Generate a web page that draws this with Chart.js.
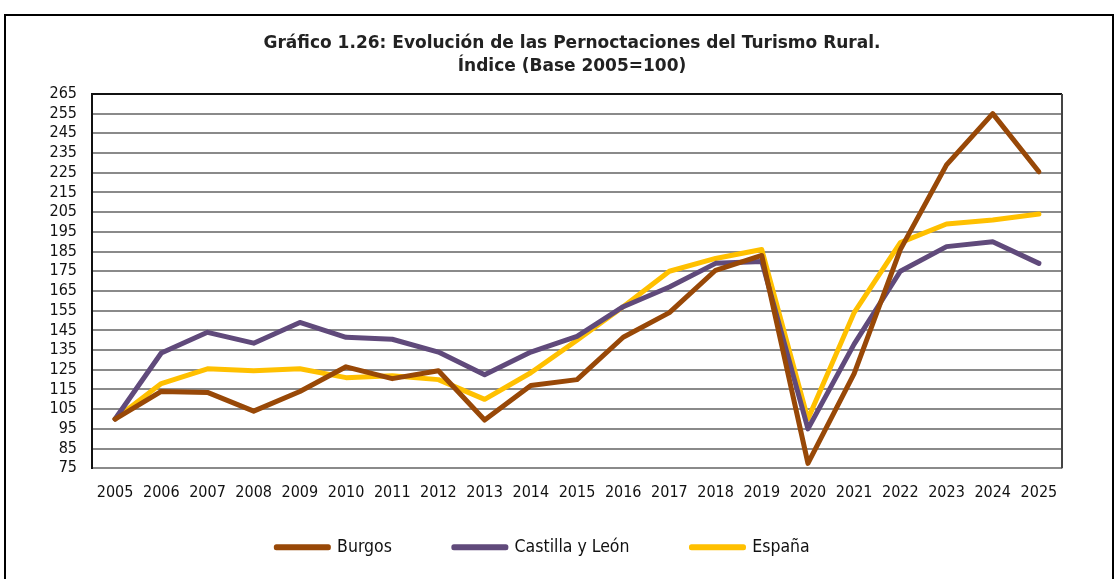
<!DOCTYPE html>
<html>
<head>
<meta charset="utf-8">
<script src="https://cdn.jsdelivr.net/npm/chart.js@4.4.1/dist/chart.umd.min.js"></script>
<style>
    body { margin: 0; overflow: hidden; background: #fff; width: 1115px; height: 579px; }
    #frame { position: absolute; left: 4px; top: 14px; width: 1106px; height: 700px; border: 2px solid #000; }
    #myChart { position: absolute; left: 0; top: 0; }
</style>
</head>
<body>
<div id="frame"></div>
<canvas id="myChart" width="1115" height="599"></canvas>
<script>
const years = ['2005', '2006', '2007', '2008', '2009', '2010', '2011', '2012', '2013', '2014', '2015',
    '2016', '2017', '2018', '2019', '2020', '2021', '2022', '2023', '2024', '2025'];
const burgos = [100, 114, 113.5, 104, 114, 126.5, 120.5, 124.5, 99.5, 117, 120, 141.5, 154, 175.5, 183, 77.5, 123, 186, 229, 255, 225.5];
const castillaLeon = [100, 133.5, 144, 138.5, 149, 141.5, 140.5, 134, 122.5, 134, 142, 157, 167, 179, 180, 95, 138, 175, 187.5, 190, 179];
const espana = [100, 118, 125.5, 124.5, 125.5, 121, 122, 120, 110, 123.5, 140, 157, 175, 181.5, 186, 100, 154, 189.5, 199, 201, 204];
const yMin = 75, yMax = 265, yStep = 10;

const narrow = '"Liberation Sans Narrow", "DejaVu Sans Condensed", sans-serif';

// right edge of the plot area
const plotEdge = {
    id: 'plotEdge',
    afterDraw(chart) {
        const a = chart.chartArea, ctx = chart.ctx;
        ctx.save();
        ctx.strokeStyle = '#444';
        ctx.lineWidth = 2;
        ctx.beginPath();
        ctx.moveTo(a.right, a.top);
        ctx.lineTo(a.right, a.bottom);
        ctx.stroke();
        ctx.restore();
    }
};

// nudge title and legend to where the original has them
const shiftBoxes = {
    id: 'shiftBoxes',
    afterUpdate(chart) {
        const t = chart.titleBlock, lg = chart.legend;
        t.left += 25; t.right += 25;
        lg.left -= 4; lg.right -= 4;
        lg.top -= 33; lg.bottom -= 33;
    }
};

function serie(label, data, color) {
    return {
        label: label,
        data: data,
        borderColor: color,
        backgroundColor: color,
        borderWidth: 5,
        borderJoinStyle: 'round',
        borderCapStyle: 'round',
        pointRadius: 0,
        tension: 0,
        fill: false
    };
}

const ctx = document.getElementById('myChart').getContext('2d');
const myChart = new Chart(ctx, {
    type: 'line',
    data: {
        labels: years,
        datasets: [
            serie('Burgos', burgos, '#984807'),
            serie('Castilla y León', castillaLeon, '#604A7B'),
            serie('España', espana, '#FFC000')
        ]
    },
    options: {
        responsive: false,
        animation: false,
        layout: { padding: { left: 32, right: 53, top: 0, bottom: 0 } },
        plugins: {
            title: {
                display: true,
                text: ['Gráfico 1.26: Evolución de las Pernoctaciones del Turismo Rural.', 'Índice (Base 2005=100)'],
                color: '#222',
                font: { family: '"DejaVu Sans", sans-serif', size: 17, weight: 'bold', lineHeight: 1.35 },
                padding: { top: 32, bottom: 16 }
            },
            legend: {
                position: 'bottom',
                labels: {
                    color: '#111',
                    font: { family: narrow, size: 17.5 },
                    boxWidth: 52,
                    boxHeight: 1,
                    padding: 62
                }
            },
            tooltip: { enabled: false }
        },
        scales: {
            x: {
                offset: true,
                grid: { display: false },
                border: { display: false },
                ticks: { color: '#111', font: { family: narrow, size: 16 }, padding: 7, maxRotation: 0, autoSkip: false }
            },
            y: {
                min: yMin,
                max: yMax,
                ticks: { stepSize: yStep, autoSkip: false, color: '#111', font: { family: narrow, size: 16 }, padding: 15 },
                grid: {
                    drawTicks: false,
                    lineWidth: 2,
                    color: c => (c.tick && c.tick.value === yMax) ? '#111' : '#8a8a8a'
                },
                border: { color: '#111', width: 2 },
                afterFit: s => { s.width = 60; }
            }
        }
    },
    plugins: [plotEdge, shiftBoxes]
});
</script>
</body>
</html>
